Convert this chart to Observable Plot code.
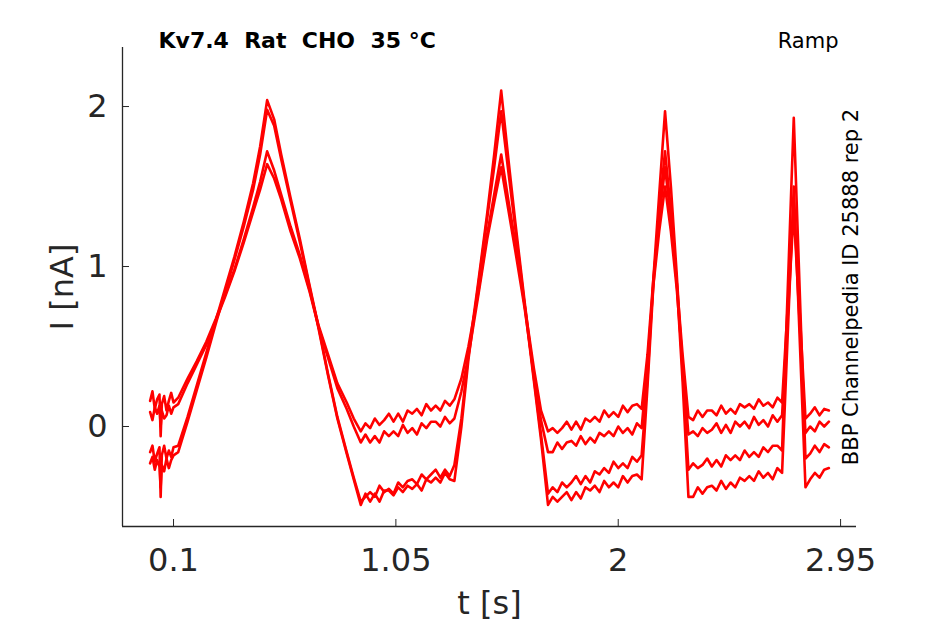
<!DOCTYPE html>
<html><head><meta charset="utf-8">
<script src="https://cdn.jsdelivr.net/npm/d3@7"></script>
<script src="https://cdn.jsdelivr.net/npm/@observablehq/plot@0.6"></script>
<style>html,body{margin:0;padding:0;background:#fff}</style>
</head><body><div id="chart"></div>
<script>
// time points [s]
const time = [
  0, 0.01, 0.02, 0.03, 0.04, 0.045, 0.05, 0.06, 0.07, 0.08, 0.09, 0.1,
  0.12, 0.16, 0.2, 0.24, 0.28, 0.32, 0.36, 0.4, 0.44, 0.47, 0.5,
  0.53, 0.56, 0.6, 0.64, 0.68, 0.72, 0.76, 0.8, 0.84, 0.87, 0.9,
  0.92, 0.94, 0.96, 0.98, 1.0, 1.02, 1.04, 1.06, 1.08, 1.1, 1.12, 1.14, 1.16, 1.18, 1.2, 1.22, 1.24, 1.26, 1.28, 1.3,
  1.33, 1.36, 1.4, 1.44, 1.47, 1.5, 1.53, 1.56, 1.6, 1.64, 1.67, 1.7,
  1.72, 1.74, 1.76, 1.78, 1.8, 1.82, 1.84, 1.86, 1.88, 1.9, 1.92, 1.94, 1.96, 1.98, 2.0, 2.02, 2.04, 2.06, 2.08, 2.1,
  2.125, 2.15, 2.175, 2.2, 2.225, 2.25, 2.275, 2.3,
  2.32, 2.34, 2.36, 2.38, 2.4, 2.42, 2.44, 2.46, 2.48, 2.5, 2.52, 2.54, 2.56, 2.58, 2.6, 2.62, 2.64, 2.66, 2.68, 2.7,
  2.75, 2.8,
  2.82, 2.84, 2.86, 2.88, 2.9
];
// current traces [nA]
const traceA = [
  0.16, 0.22, 0.11, 0.17, 0.20, -0.06, 0.14, 0.19, 0.10, 0.16, 0.21, 0.15,
  0.18, 0.30, 0.41, 0.53, 0.67, 0.82, 0.98, 1.17, 1.37, 1.53, 1.72,
  1.60, 1.45, 1.25, 1.07, 0.86, 0.63, 0.45, 0.27, 0.15, 0.05, -0.03,
  0.02, -0.01, 0.05, 0.01, 0.04, 0.08, 0.03, 0.08, 0.03, 0.10, 0.08, 0.11, 0.07, 0.14, 0.10, 0.13, 0.10, 0.16, 0.13, 0.17,
  0.30, 0.50, 0.82, 1.20, 1.45, 1.70, 1.42, 1.15, 0.76, 0.36, 0.10, -0.03,
  -0.01, -0.04, -0.01, 0.03, -0.02, 0.03, -0.02, 0.05, 0.03, 0.06, 0.03, 0.10, 0.06, 0.09, 0.06, 0.13, 0.09, 0.13, 0.14, 0.11,
  0.45, 0.92, 1.30, 1.62, 1.30, 0.90, 0.45, 0.06,
  0.04, 0.10, 0.06, 0.10, 0.10, 0.07, 0.13, 0.08, 0.11, 0.08, 0.14, 0.12, 0.14, 0.11, 0.17, 0.13, 0.15, 0.12, 0.18, 0.15,
  1.40, 0.05,
  0.08, 0.12, 0.07, 0.11, 0.10
];
const traceB = [
  0.09, 0.04, 0.12, 0.08, 0.13, 0.00, 0.10, 0.05, 0.07, 0.13, 0.08, 0.12,
  0.14, 0.27, 0.39, 0.51, 0.66, 0.81, 0.97, 1.15, 1.34, 1.48, 1.64,
  1.55, 1.42, 1.22, 1.05, 0.85, 0.62, 0.43, 0.24, 0.11, 0.00, -0.10,
  -0.05, -0.10, -0.06, -0.10, -0.03, -0.06, -0.03, -0.06, 0.01, -0.04, -0.01, -0.05, 0.02, -0.01, 0.03, 0.03, 0.00, 0.06, 0.02, 0.05,
  0.22, 0.44, 0.80, 1.17, 1.40, 1.62, 1.36, 1.10, 0.74, 0.32, 0.04, -0.16,
  -0.16, -0.10, -0.14, -0.10, -0.09, -0.12, -0.06, -0.11, -0.07, -0.10, -0.04, -0.06, -0.03, -0.06, 0.00, -0.04, -0.01, -0.05, 0.02, -0.01,
  0.40, 0.88, 1.22, 1.50, 1.22, 0.86, 0.40, -0.05,
  -0.03, -0.06, -0.01, -0.04, -0.02, 0.02, -0.04, 0.01, -0.04, 0.03, 0.00, 0.03, -0.01, 0.06, 0.01, 0.04, 0.00, 0.07, 0.03, 0.07,
  1.35, -0.04,
  0.00, -0.03, 0.03, 0.00, 0.03
];
const traceC = [
  -0.16, -0.12, -0.22, -0.17, -0.13, -0.44, -0.18, -0.12, -0.20, -0.15, -0.19, -0.13,
  -0.12, 0.06, 0.26, 0.46, 0.66, 0.86, 1.06, 1.28, 1.52, 1.75, 2.04,
  1.92, 1.70, 1.43, 1.17, 0.89, 0.62, 0.33, 0.06, -0.16, -0.32, -0.47,
  -0.44, -0.41, -0.44, -0.37, -0.41, -0.39, -0.42, -0.35, -0.38, -0.34, -0.33, -0.36, -0.30, -0.33, -0.30, -0.27, -0.32, -0.27, -0.31, -0.24,
  0.05, 0.45, 0.88, 1.33, 1.70, 2.10, 1.68, 1.28, 0.78, 0.30, -0.05, -0.42,
  -0.38, -0.41, -0.35, -0.38, -0.35, -0.31, -0.36, -0.31, -0.35, -0.28, -0.30, -0.26, -0.29, -0.22, -0.26, -0.23, -0.26, -0.19, -0.22, -0.18,
  0.30, 0.92, 1.45, 1.97, 1.50, 0.95, 0.35, -0.27,
  -0.23, -0.26, -0.24, -0.20, -0.25, -0.21, -0.25, -0.18, -0.21, -0.18, -0.21, -0.15, -0.19, -0.16, -0.19, -0.13, -0.16, -0.12, -0.12, -0.15,
  1.93, -0.20,
  -0.17, -0.12, -0.16, -0.11, -0.13
];
const traceD = [
  -0.23, -0.19, -0.27, -0.21, -0.25, -0.38, -0.24, -0.28, -0.20, -0.26, -0.21, -0.18,
  -0.16, 0.03, 0.23, 0.43, 0.64, 0.84, 1.04, 1.25, 1.48, 1.70, 1.98,
  1.88, 1.67, 1.41, 1.15, 0.88, 0.61, 0.32, 0.05, -0.17, -0.33, -0.49,
  -0.42, -0.47, -0.42, -0.47, -0.40, -0.40, -0.43, -0.38, -0.41, -0.37, -0.39, -0.36, -0.40, -0.33, -0.35, -0.32, -0.35, -0.29, -0.33, -0.34,
  0.00, 0.42, 0.86, 1.30, 1.62, 1.97, 1.60, 1.24, 0.76, 0.28, -0.08, -0.49,
  -0.44, -0.47, -0.44, -0.41, -0.46, -0.41, -0.45, -0.38, -0.40, -0.37, -0.41, -0.34, -0.38, -0.35, -0.38, -0.31, -0.35, -0.31, -0.30, -0.33,
  0.25, 0.88, 1.35, 1.72, 1.35, 0.90, 0.28, -0.44,
  -0.44, -0.38, -0.42, -0.38, -0.37, -0.40, -0.34, -0.39, -0.35, -0.38, -0.32, -0.34, -0.31, -0.34, -0.28, -0.32, -0.29, -0.33, -0.26, -0.29,
  1.50, -0.38,
  -0.33, -0.29, -0.32, -0.27, -0.26
];
const traceNames = ["A", "B", "C", "D"];
const traces = [traceA, traceB, traceC, traceD];

const xTicks = [0.1, 1.05, 2, 2.95];
const xTickLabels = ["0.1", "1.05", "2", "2.95"];
const yTicks = [0, 1, 2];
const yTickLabels = ["0", "1", "2"];
const xDomain = [-0.118, 3.018];
const yDomain = [-0.625, 2.369];

const titleText = "Kv7.4\u00a0 Rat\u00a0 CHO\u00a0 35 °C";
const protocolText = "Ramp";
const sideText = "BBP Channelpedia ID 25888 rep 2";
const xLabel = "t [s]";
const yLabel = "I [nA]";

const data = traces.flatMap((vals, k) => vals.map((v, i) => ({t: time[i], i: v, trace: traceNames[k]})));

const axisColor = "#262626";
const chart = Plot.plot({
  width: 945,
  height: 624,
  marginLeft: 122,
  marginRight: 89,
  marginTop: 47,
  marginBottom: 98,
  style: {fontFamily: "DejaVu Sans", background: "#fff", color: axisColor},
  x: {domain: xDomain},
  y: {domain: yDomain},
  marks: [
    Plot.line(data, {x: "t", y: "i", z: "trace", stroke: "#ff0000", strokeWidth: 2.6, strokeLinejoin: "round"}),
    Plot.ruleX([xDomain[0]], {stroke: axisColor, strokeWidth: 1.3}),
    Plot.ruleY([yDomain[0]], {stroke: axisColor, strokeWidth: 1.3}),
    Plot.axisX(xTicks, {anchor: "bottom", tickSize: -7, tickPadding: 29, fontSize: 32, stroke: axisColor, fill: axisColor,
      tickFormat: d => xTickLabels[xTicks.indexOf(d)], label: null}),
    Plot.axisY(yTicks, {anchor: "left", tickSize: -7, tickPadding: 22, fontSize: 32, stroke: axisColor, fill: axisColor,
      tickFormat: d => yTickLabels[yTicks.indexOf(d)], label: null}),
    Plot.text([xLabel], {frameAnchor: "bottom", text: d => d, dy: 87, lineAnchor: "bottom", fontSize: 32, fill: axisColor}),
    Plot.text([yLabel], {frameAnchor: "left", text: d => d, dx: -50, rotate: -90, lineAnchor: "bottom", textAnchor: "middle", fontSize: 32, fill: axisColor}),
    Plot.text([titleText], {frameAnchor: "top-left", text: d => d, dx: 36, lineAnchor: "bottom", textAnchor: "start", fontSize: 22, fontWeight: "bold", fill: "#000"}),
    Plot.text([protocolText], {frameAnchor: "top-right", text: d => d, dx: -18, lineAnchor: "bottom", textAnchor: "end", fontSize: 21, fill: "#000"}),
    Plot.text([sideText], {frameAnchor: "right", text: d => d, dx: 1, rotate: -90, lineAnchor: "bottom", textAnchor: "middle", fontSize: 21, fill: "#000"})
  ]
});
document.getElementById("chart").append(chart);
</script>
</body></html>
